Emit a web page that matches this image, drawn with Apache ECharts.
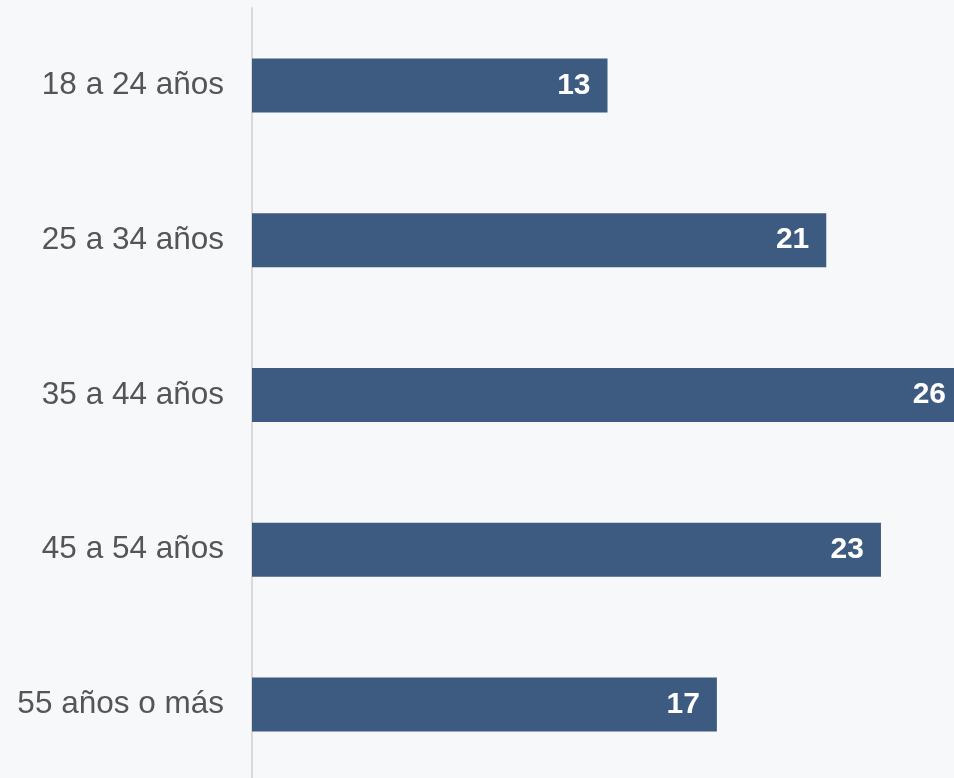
<!DOCTYPE html>
<html>
<head>
<meta charset="utf-8">
<script src="https://cdn.jsdelivr.net/npm/echarts@6/dist/echarts.min.js"></script>
<style>
html,body{margin:0;padding:0;background:#f7f8fa;overflow:hidden;width:954px;height:778px;}
#c{width:963px;height:782px;}
</style>
</head>
<body>
<div id="c"></div>
<script>
const categories = ['18 a 24 años', '25 a 34 años', '35 a 44 años', '45 a 54 años', '55 años o más'];
const values = [13, 21, 26, 23, 17];

const chart = echarts.init(document.getElementById('c'), null, {renderer: 'canvas'});
chart.setOption({
  backgroundColor: '#f7f8fa',
  animation: false,
  grid: {left: 252, right: 0, top: 8, bottom: 0, containLabel: false},
  xAxis: {
    type: 'value', min: 0, max: 26,
    show: false
  },
  yAxis: {
    type: 'category',
    data: categories,
    inverse: true,
    axisLine: {show: true, lineStyle: {color: '#d9d9d9', width: 2}},
    axisTick: {show: false},
    axisLabel: {
      margin: 28,
      fontSize: 31.5,
      color: '#555555',
      fontFamily: 'Liberation Sans, Arial, sans-serif'
    }
  },
  series: [{
    type: 'bar',
    data: values,
    barWidth: 54,
    itemStyle: {color: '#3d5a80'},
    label: {
      show: true,
      position: 'insideRight',
      distance: 17,
      color: '#ffffff',
      fontWeight: 'bold',
      fontSize: 30,
      fontFamily: 'Liberation Sans, Arial, sans-serif'
    }
  }]
});
</script>
</body>
</html>
